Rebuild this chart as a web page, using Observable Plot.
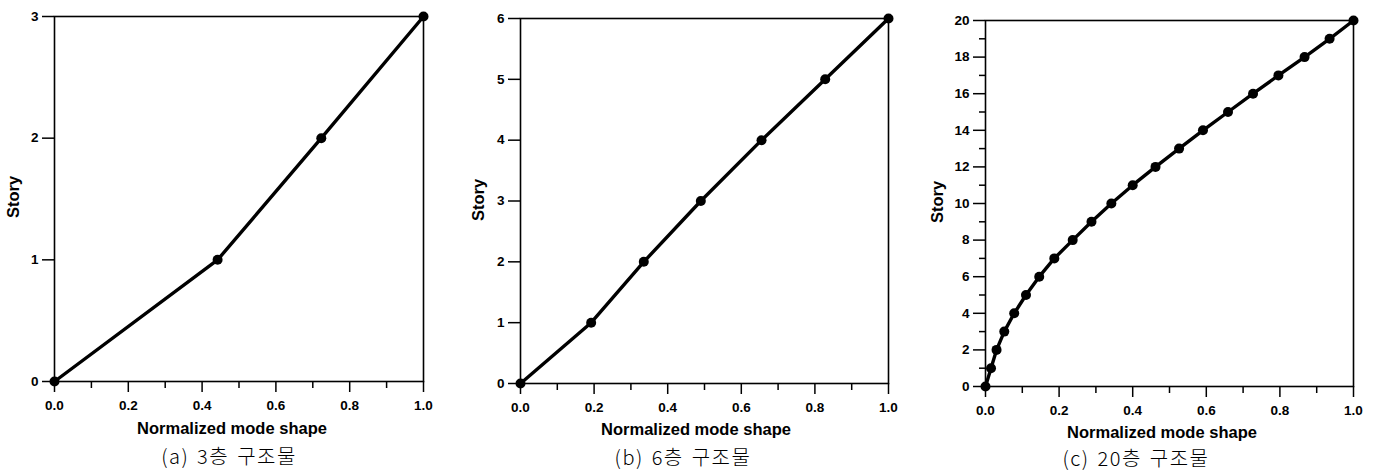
<!DOCTYPE html>
<html>
<head>
<meta charset="utf-8">
<script src="https://cdn.jsdelivr.net/npm/d3@7"></script>
<script src="https://cdn.jsdelivr.net/npm/@observablehq/plot@0.6"></script>
<style>
  html, body { margin: 0; padding: 0; background: #fff; }
  #fig { position: relative; width: 1378px; height: 472px; overflow: hidden; font-family: "Liberation Sans", Arial, sans-serif; color: #000; }
  .panel { position: absolute; top: 0; }
  #fig svg text { font-family: "Liberation Sans", Arial, sans-serif; font-size: 13.5px; font-weight: bold; }
  .lbl { position: absolute; transform: translate(-50%, -50%); white-space: pre; font-weight: bold; font-size: 16.5px; line-height: 1; }
  .ylbl { transform: translate(-50%, -50%) rotate(-90deg); }
  .cap { position: absolute; transform: translate(-50%, -50%); white-space: pre; font-family: "Noto Sans CJK KR", sans-serif; font-weight: 300; font-size: 20px; line-height: 1; letter-spacing: 1.5px; word-spacing: 2px; }
</style>
</head>
<body>
<div id="fig"></div>
<script>
// Normalized first-mode shapes of the 3-, 6- and 20-story structures
const story3 = [0, 1, 2, 3];
const shape3 = [0, 0.442, 0.723, 1.0];

const story6 = [0, 1, 2, 3, 4, 5, 6];
const shape6 = [0, 0.192, 0.335, 0.490, 0.655, 0.828, 1.0];

const story20 = [0, 1, 2, 3, 4, 5, 6, 7, 8, 9, 10, 11, 12, 13, 14, 15, 16, 17, 18, 19, 20];
const shape20 = [0, 0.015, 0.030, 0.051, 0.078, 0.110, 0.146, 0.187, 0.237, 0.288, 0.342,
                 0.400, 0.462, 0.526, 0.591, 0.659, 0.727, 0.796, 0.867, 0.935, 1.0];

// Axis ticks
const xMajorTicks = [0, 0.2, 0.4, 0.6, 0.8, 1.0];
const xMinorTicks = [0.1, 0.3, 0.5, 0.7, 0.9];
const yTicks3 = [0, 1, 2, 3];
const yTicks6 = [0, 1, 2, 3, 4, 5, 6];
const yTicks20 = [0, 2, 4, 6, 8, 10, 12, 14, 16, 18, 20];
const yMinor20 = [1, 3, 5, 7, 9, 11, 13, 15, 17, 19];

// Text
const xTitle = "Normalized mode shape";
const yTitle = "Story";
const captions = ["(a) 3층 구조물", "(b) 6층 구조물", "(c) 20층 구조물"];

const fig = document.getElementById("fig");
const H = 472;
const fmt1 = d3.format(".1f");

function modePlot({shape, story, yTicks, yMinor, width, mL, mR, mT, bottom}) {
  const rows = shape.map((s, i) => ({shape: s, story: story[i]}));
  return Plot.plot({
    width, height: H,
    marginLeft: mL, marginRight: mR, marginTop: mT, marginBottom: H - bottom,
    x: {domain: [0, 1]},
    y: {domain: [0, d3.max(yTicks)]},
    style: {background: "transparent", overflow: "visible", color: "#000"},
    marks: [
      Plot.frame({stroke: "#000", strokeWidth: 1.6}),
      Plot.axisX({anchor: "bottom", ticks: xMinorTicks, tickSize: 7, fill: "none", label: null, strokeWidth: 1.5}),
      Plot.axisX({anchor: "bottom", ticks: xMajorTicks, tickSize: 11, tickPadding: 8, tickFormat: fmt1, label: null, strokeWidth: 1.5}),
      Plot.axisY({anchor: "left", ticks: yTicks, tickSize: 12, tickPadding: 4, tickFormat: d3.format("d"), label: null, strokeWidth: 1.5}),
      yMinor ? Plot.axisY({anchor: "left", ticks: yMinor, tickSize: 6, fill: "none", label: null, strokeWidth: 1.5}) : null,
      Plot.line(rows, {x: "shape", y: "story", stroke: "#000", strokeWidth: 3.4, strokeLinejoin: "round"}),
      Plot.dot(rows, {x: "shape", y: "story", r: 5, fill: "#000", stroke: "none"})
    ]
  });
}

const panels = [
  {shape: shape3, story: story3, yTicks: yTicks3, yMinor: null, left: 0, width: 460, mL: 54, mR: 37, mT: 16, bottom: 381,
   title: [232, 428], ylab: [13, 197], cap: [229, 456]},
  {shape: shape6, story: story6, yTicks: yTicks6, yMinor: null, left: 460, width: 460, mL: 60, mR: 32, mT: 18, bottom: 383,
   title: [696, 429], ylab: [478, 200], cap: [683, 457]},
  {shape: shape20, story: story20, yTicks: yTicks20, yMinor: yMinor20, left: 920, width: 458, mL: 65, mR: 25, mT: 20, bottom: 386,
   title: [1162, 432], ylab: [937, 202], cap: [1136, 458]}
];

panels.forEach((p, i) => {
  const svg = modePlot(p);
  svg.classList.add("panel");
  svg.style.left = p.left + "px";
  fig.appendChild(svg);

  const t = document.createElement("div");
  t.className = "lbl";
  t.textContent = xTitle;
  t.style.left = p.title[0] + "px";
  t.style.top = p.title[1] + "px";
  fig.appendChild(t);

  const y = document.createElement("div");
  y.className = "lbl ylbl";
  y.textContent = yTitle;
  y.style.left = p.ylab[0] + "px";
  y.style.top = p.ylab[1] + "px";
  fig.appendChild(y);

  const c = document.createElement("div");
  c.className = "cap";
  c.textContent = captions[i];
  c.style.left = p.cap[0] + "px";
  c.style.top = p.cap[1] + "px";
  fig.appendChild(c);
});
</script>
</body>
</html>
